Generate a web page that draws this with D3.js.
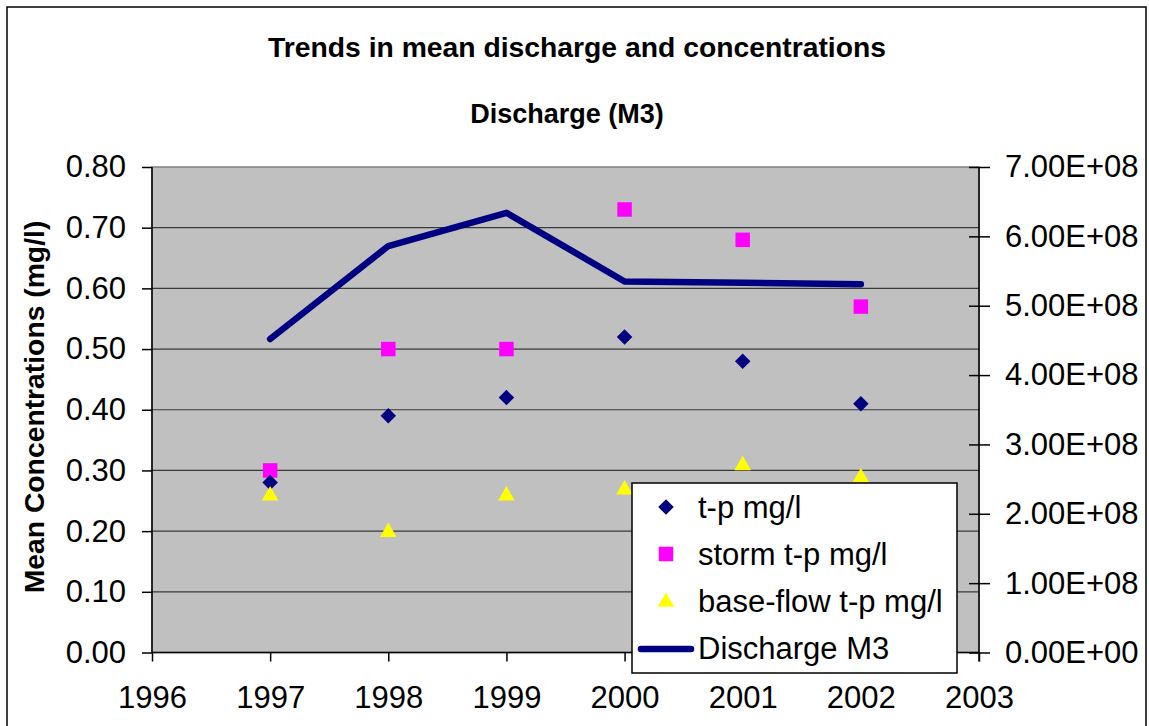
<!DOCTYPE html>
<html>
<head>
<meta charset="utf-8">
<script src="https://cdn.jsdelivr.net/npm/d3@7"></script>
<style>
  body { margin: 0; background: #fff; }
  text { font-family: "Liberation Sans", Arial, sans-serif; fill: #000; }
</style>
</head>
<body>
<svg id="chart" width="1149" height="726"></svg>
<script>
// data
const years = [1997, 1998, 1999, 2000, 2001, 2002]
const tp = [0.28, 0.39, 0.42, 0.52, 0.48, 0.41]
const stormTp = [0.30, 0.50, 0.50, 0.73, 0.68, 0.57]
const baseFlowTp = [0.26, 0.20, 0.26, 0.27, 0.31, 0.29]
const discharge = [4.52e8, 5.86e8, 6.34e8, 5.35e8, 5.33e8, 5.31e8]
const xTicks = [1996, 1997, 1998, 1999, 2000, 2001, 2002, 2003]
const leftTicks = [0, 0.1, 0.2, 0.3, 0.4, 0.5, 0.6, 0.7, 0.8]
const rightTicks = [0, 1e8, 2e8, 3e8, 4e8, 5e8, 6e8, 7e8]
const legendLabels = ['t-p mg/l', 'storm t-p mg/l', 'base-flow t-p mg/l', 'Discharge M3']

const svg = d3.select('#chart')
const plot = { left: 152, right: 979, top: 167, bottom: 652.5 }

// outer chart border
svg.append('rect')
  .attr('x', 7).attr('y', 7)
  .attr('width', 1139).attr('height', 740)
  .attr('fill', '#fff')
  .attr('stroke', '#000')
  .attr('stroke-width', 1.5)

const xScale = d3.scaleLinear().domain([1996, 2003]).range([plot.left, plot.right])
const yLeft = d3.scaleLinear().domain([0, 0.8]).range([plot.bottom, plot.top])
const yRight = d3.scaleLinear().domain([0, 7e8]).range([plot.bottom, plot.top])

// plot background
svg.append('rect')
  .attr('x', plot.left).attr('y', plot.top)
  .attr('width', plot.right - plot.left)
  .attr('height', plot.bottom - plot.top)
  .attr('fill', '#c0c0c0')
  .attr('stroke', '#808080')
  .attr('stroke-width', 1.5)

// gridlines
svg.append('g').selectAll('line').data(leftTicks.slice(1, -1))
  .enter().append('line')
  .attr('x1', plot.left).attr('x2', plot.right)
  .attr('y1', d => yLeft(d)).attr('y2', d => yLeft(d))
  .attr('stroke', '#3a3a3a')
  .attr('stroke-width', 1.2)

// left axis
const leftAxisG = svg.append('g')
  .attr('transform', `translate(${plot.left},0)`)
  .call(d3.axisLeft(yLeft).tickValues(leftTicks).tickFormat(d3.format('.2f')).tickSize(10).tickPadding(16))
leftAxisG.selectAll('text').style('font-size', '31px')
leftAxisG.selectAll('line, path').attr('stroke', '#000').attr('stroke-width', 1.5)
leftAxisG.select('.domain').attr('d', `M0,${plot.top}V${plot.bottom}`)

// right axis, ticks cross the axis line
const rightAxisG = svg.append('g')
  .attr('transform', `translate(${plot.right},0)`)
  .call(d3.axisRight(yRight).tickValues(rightTicks)
    .tickFormat(d => d.toExponential(2).toUpperCase().replace(/E\+(\d)$/, 'E+0$1'))
    .tickSize(11).tickPadding(15))
rightAxisG.selectAll('.tick line').attr('x1', -10)
rightAxisG.selectAll('text').style('font-size', '31px')
rightAxisG.selectAll('line, path').attr('stroke', '#000').attr('stroke-width', 1.5)
rightAxisG.select('.domain').attr('d', `M0,${plot.top}V${plot.bottom + 9}`)

// bottom axis
const xAxisG = svg.append('g')
  .attr('transform', `translate(0,${plot.bottom})`)
  .call(d3.axisBottom(xScale).tickValues(xTicks).tickFormat(d3.format('d')).tickSize(9).tickPadding(24))
xAxisG.selectAll('text').style('font-size', '31px')
xAxisG.selectAll('line, path').attr('stroke', '#000').attr('stroke-width', 1.5)
xAxisG.select('.domain').attr('d', `M${plot.left},0H${plot.right}`)

// discharge line
const lineGen = d3.line()
  .x((d, i) => xScale(years[i]))
  .y(d => yRight(d))
svg.append('path')
  .datum(discharge)
  .attr('d', lineGen)
  .attr('fill', 'none')
  .attr('stroke', '#000080')
  .attr('stroke-width', 6.5)
  .attr('stroke-linecap', 'round')
  .attr('stroke-linejoin', 'round')

const diamond = d3.symbol().type(d3.symbolSquare).size(120)
const square = d3.symbol().type(d3.symbolSquare).size(210)
const triangle = d3.symbol().type(d3.symbolTriangle).size(120)

// storm t-p squares
svg.append('g').selectAll('path').data(stormTp)
  .enter().append('path')
  .attr('d', square)
  .attr('transform', (d, i) => `translate(${xScale(years[i])},${yLeft(d)})`)
  .attr('fill', '#ff00ff')

// t-p diamonds
svg.append('g').selectAll('path').data(tp)
  .enter().append('path')
  .attr('d', diamond)
  .attr('transform', (d, i) => `translate(${xScale(years[i])},${yLeft(d)}) rotate(45)`)
  .attr('fill', '#000080')

// base-flow triangles
svg.append('g').selectAll('path').data(baseFlowTp)
  .enter().append('path')
  .attr('d', triangle)
  .attr('transform', (d, i) => `translate(${xScale(years[i])},${yLeft(d) + 1})`)
  .attr('fill', '#ffff00')

// titles
svg.append('text')
  .attr('x', 577).attr('y', 57)
  .attr('text-anchor', 'middle')
  .style('font-size', '28.3px').style('font-weight', 'bold')
  .text('Trends in mean discharge and concentrations')

svg.append('text')
  .attr('x', 567).attr('y', 123)
  .attr('text-anchor', 'middle')
  .style('font-size', '27px').style('font-weight', 'bold')
  .text('Discharge (M3)')

svg.append('text')
  .attr('transform', 'translate(44,407) rotate(-90)')
  .attr('text-anchor', 'middle')
  .style('font-size', '28.3px').style('font-weight', 'bold')
  .text('Mean Concentrations (mg/l)')

// legend
const legend = svg.append('g').attr('transform', 'translate(632,483)')
legend.append('rect')
  .attr('width', 325).attr('height', 190)
  .attr('fill', '#fff')
  .attr('stroke', '#000')
  .attr('stroke-width', 1.5)

const rowY = i => 24 + i * 47
const items = legend.selectAll('g.item').data(legendLabels)
  .enter().append('g')
  .attr('class', 'item')
  .attr('transform', (d, i) => `translate(0,${rowY(i)})`)

items.append('text')
  .attr('x', 66).attr('y', 11)
  .style('font-size', '31px')
  .text(d => d)

legend.append('path').attr('d', diamond)
  .attr('transform', `translate(34,${rowY(0)}) rotate(45)`).attr('fill', '#000080')
legend.append('path').attr('d', square)
  .attr('transform', `translate(34,${rowY(1)})`).attr('fill', '#ff00ff')
legend.append('path').attr('d', triangle)
  .attr('transform', `translate(34,${rowY(2) + 1})`).attr('fill', '#ffff00')
legend.append('line')
  .attr('x1', 9).attr('x2', 59)
  .attr('y1', rowY(3) + 1).attr('y2', rowY(3) + 1)
  .attr('stroke', '#000080').attr('stroke-width', 6.5)
  .attr('stroke-linecap', 'round')
</script>
</body>
</html>
